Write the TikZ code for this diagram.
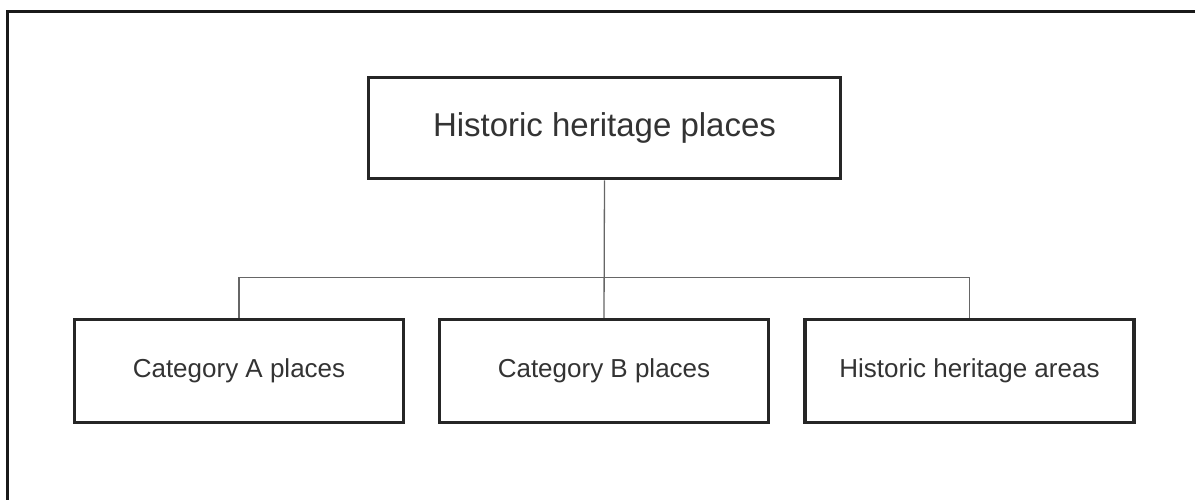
\documentclass[tikz,border=0pt]{standalone}
\usepackage{fontspec}
\setmainfont{Liberation Sans}
\begin{document}
\begin{tikzpicture}[x=1pt,y=-1pt,
  box/.style={draw=black!85,line width=3.5pt,fill=white,text=black!80,inner sep=0pt},
  topbox/.style={box,minimum width=472pt,minimum height=101pt,font=\fontsize{33}{38}\selectfont},
  subbox/.style={box,minimum width=329pt,minimum height=103pt,font=\fontsize{26}{30}\selectfont},
  link/.style={draw=black!60,line width=1.3pt},
  frame/.style={draw=black!90,line width=3pt}]
\useasboundingbox (0,0) rectangle (1195,499);
\draw[frame] (1197,11) -- (7.5,11) -- (7.5,501);
\node[topbox] (top) at (604.5,128) {Historic heritage places};
\node[subbox] (a) at (239,371) {Category A places};
\node[subbox] (b) at (604,371) {Category B places};
\node[subbox] (c) at (969.5,371) {Historic heritage areas};
\draw[link] (top.south) -- (b.north);
\draw[link] (a.north) -- ++(0,-40) -| (c.north);
\end{tikzpicture}
\end{document}
